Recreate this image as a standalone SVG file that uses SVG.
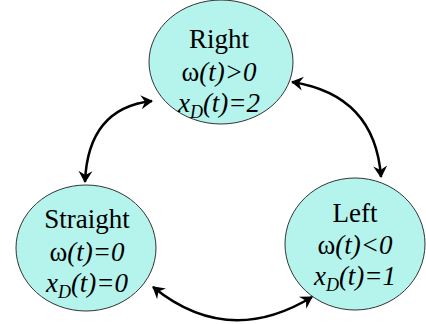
<svg xmlns="http://www.w3.org/2000/svg" width="426" height="324" viewBox="0 0 426 324">
<style>
.n{fill:#b5f4ed;stroke:#333;stroke-width:1}
.t{font-family:'Liberation Serif',serif;font-size:27px;fill:#000;text-anchor:middle}
.i{font-style:italic}
.s{font-size:18px;font-style:italic}
.c{fill:none;stroke:#000;stroke-width:2.5;marker-start:url(#ah);marker-end:url(#ah)}
</style>
<defs>
<marker id="ah" viewBox="-12 -8 14 16" markerWidth="14" markerHeight="16" refX="0" refY="0" markerUnits="userSpaceOnUse" orient="auto-start-reverse">
<path d="M1,0 L-11,-7 L-7,0 L-11,7 Z" fill="#000"/>
</marker>
</defs>
<g id="right">
<ellipse class="n" cx="221" cy="62" rx="72" ry="62"/>
<text class="t" font-family="Liberation Serif, serif" x="219" y="48">Right</text>
<text class="t" font-family="Liberation Serif, serif" x="219" y="81">ω<tspan class="i">(t)&gt;0</tspan></text>
<text class="t" font-family="Liberation Serif, serif" x="219" y="112"><tspan class="i">x</tspan><tspan class="s" dy="6">D</tspan><tspan class="i" dy="-6">(t)=2</tspan></text>
</g>
<g id="straight">
<ellipse class="n" cx="86" cy="248" rx="70" ry="63"/>
<text class="t" font-family="Liberation Serif, serif" x="87" y="228">Straight</text>
<text class="t" font-family="Liberation Serif, serif" x="87" y="261">ω<tspan class="i">(t)=0</tspan></text>
<text class="t" font-family="Liberation Serif, serif" x="87" y="292"><tspan class="i">x</tspan><tspan class="s" dy="6">D</tspan><tspan class="i" dy="-6">(t)=0</tspan></text>
</g>
<g id="left">
<ellipse class="n" cx="355" cy="244" rx="70" ry="66"/>
<text class="t" font-family="Liberation Serif, serif" x="355" y="222">Left</text>
<text class="t" font-family="Liberation Serif, serif" x="355" y="254">ω<tspan class="i">(t)&lt;0</tspan></text>
<text class="t" font-family="Liberation Serif, serif" x="355" y="285"><tspan class="i">x</tspan><tspan class="s" dy="6">D</tspan><tspan class="i" dy="-6">(t)=1</tspan></text>
</g>
<g id="connectors">
<path class="c" d="M152,101 Q88,108 85,182"/>
<path class="c" d="M292,82 Q375,95 381,177"/>
<path class="c" d="M153,287 Q228,348 312,297"/>
</g>
</svg>
